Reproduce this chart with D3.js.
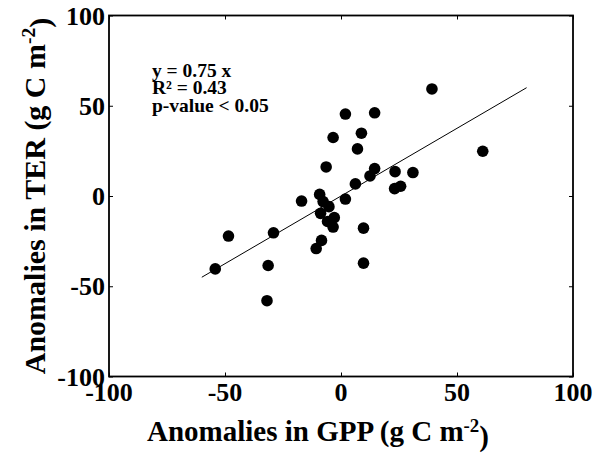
<!DOCTYPE html>
<html>
<head>
<meta charset="utf-8">
<script src="https://cdn.jsdelivr.net/npm/d3@7"></script>
<style>
  html, body { margin: 0; padding: 0; background: #fff; }
  svg { display: block; }
  text { font-family: "Liberation Serif", "Times New Roman", serif; font-weight: bold; fill: #000; }
</style>
</head>
<body>
<svg id="chart" width="604" height="457"></svg>
<script>
// ---- data ----
const gpp = [39.2, 1.9, 14.5, -3.4, 8.8, 7.1, 61.1, -6.4, 14.5, 23.3, 31, 12.5, 6.2, 23.1, 25.7,
             -9.2, -17, 1.9, -7.7, -5.2, -8.8, -2.9, -5.8, -3.4, 9.7, -29.1, -48.5, -8.4, -10.7,
             9.7, -31.4, -54.2, -31.9];
const ter = [59.3, 45.4, 46.1, 32.4, 34.8, 26.1, 24.8, 16.1, 15.2, 13.5, 13, 11.1, 6.7, 4.1, 5.4,
             0.9, -2.8, -1.7, -3.1, -5.9, -9.6, -12, -14.1, -17.2, -17.8, -20.4, -22.2, -24.6, -29.1,
             -37.2, -38.5, -40.4, -58];
const fitSlope = 0.75;
const fitX = [-60, 80];
const xTicks = [-100, -50, 0, 50, 100];
const yTicks = [-100, -50, 0, 50, 100];
const annotation = ["y = 0.75 x", "R\u00b2 = 0.43", "p-value < 0.05"];
const xTitle = ["Anomalies in GPP (g C m", "-2", ")"];
const yTitle = ["Anomalies in TER (g C m", "-2", ")"];

// ---- layout ----
const L = 109, R = 573, T = 15.5, B = 376.5;
const svg = d3.select("#chart");
const x = d3.scaleLinear().domain([-100, 100]).range([L, R]);
const y = d3.scaleLinear().domain([-100, 100]).range([B, T]);

// inward ticks on all four sides
const tl = 4;
svg.append("g").attr("transform", `translate(0,${B})`)
  .call(d3.axisBottom(x).tickValues(xTicks).tickSize(-tl).tickFormat(""))
  .call(g => g.select(".domain").remove());
svg.append("g").attr("transform", `translate(0,${T})`)
  .call(d3.axisTop(x).tickValues(xTicks).tickSize(-tl).tickFormat(""))
  .call(g => g.select(".domain").remove());
svg.append("g").attr("transform", `translate(${L},0)`)
  .call(d3.axisLeft(y).tickValues(yTicks).tickSize(-tl).tickFormat(""))
  .call(g => g.select(".domain").remove());
svg.append("g").attr("transform", `translate(${R},0)`)
  .call(d3.axisRight(y).tickValues(yTicks).tickSize(-tl).tickFormat(""))
  .call(g => g.select(".domain").remove());
svg.selectAll(".tick line").attr("stroke", "#000").attr("stroke-width", 1);

// frame
svg.append("rect").attr("x", L).attr("y", T).attr("width", R - L).attr("height", B - T)
  .attr("fill", "none").attr("stroke", "#000").attr("stroke-width", 1.8);

// tick labels
svg.append("g").selectAll("text").data(xTicks).join("text")
  .attr("x", d => x(d)).attr("y", B + 24)
  .attr("text-anchor", "middle").attr("font-size", 26).text(d => d);
svg.append("g").selectAll("text").data(yTicks).join("text")
  .attr("x", L - 4).attr("y", d => y(d) + 9)
  .attr("text-anchor", "end").attr("font-size", 26).text(d => d);

// fit line
const line = d3.line().x(d => x(d)).y(d => y(fitSlope * d));
svg.append("path").datum(fitX).attr("d", line)
  .attr("fill", "none").attr("stroke", "#000").attr("stroke-width", 1);

// points
svg.append("g").selectAll("circle").data(gpp.map((g, i) => [g, ter[i]])).join("circle")
  .attr("cx", d => x(d[0])).attr("cy", d => y(d[1])).attr("r", 5.8).attr("fill", "#000");

// annotation
const ann = svg.append("text").attr("font-size", 19.5);
annotation.forEach((s, i) => {
  ann.append("tspan").attr("x", x(-81.5)).attr("y", y(66) + i * 17.5).text(s);
});

// axis titles
function title(sel, parts) {
  sel.append("tspan").text(parts[0]);
  sel.append("tspan").attr("dy", "-0.5em").attr("font-size", "0.65em").text(parts[1]);
  sel.append("tspan").attr("dy", "0.5em").text(parts[2]);
}
const xt = svg.append("text").attr("x", 147).attr("y", 441).attr("font-size", 29);
title(xt, xTitle);
const yt = svg.append("text").attr("transform", `translate(45,${(T + B) / 2}) rotate(-90)`)
  .attr("text-anchor", "middle").attr("font-size", 30);
title(yt, yTitle);
</script>
</body>
</html>
